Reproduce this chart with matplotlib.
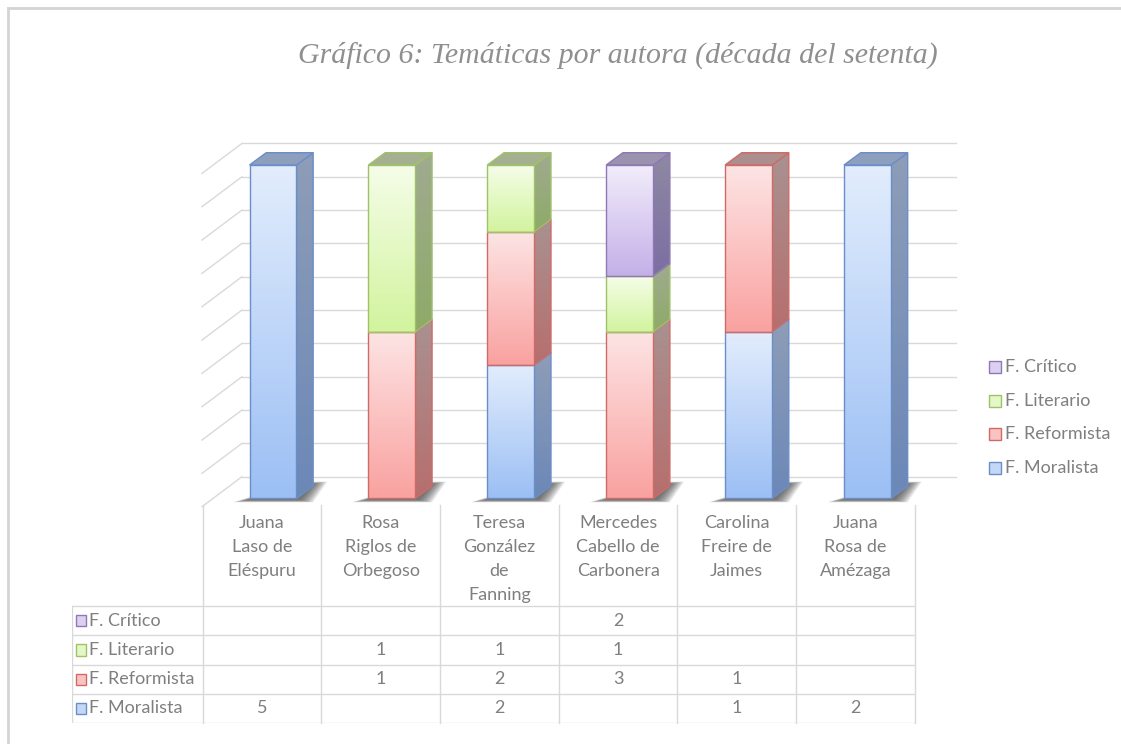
import numpy as np
import matplotlib
matplotlib.use('Agg')
import matplotlib.pyplot as plt
from matplotlib.patches import Polygon, Rectangle
from matplotlib.colors import to_rgb
from matplotlib.lines import Line2D

# data
autoras = ['Juana Laso de Eléspuru', 'Rosa Riglos de Orbegoso',
           'Teresa González de Fanning', 'Mercedes Cabello de Carbonera',
           'Carolina Freire de Jaimes', 'Juana Rosa de Amézaga']
etiquetas = ['Juana\nLaso de\nEléspuru', 'Rosa\nRiglos de\nOrbegoso',
             'Teresa\nGonzález\nde\nFanning', 'Mercedes\nCabello de\nCarbonera',
             'Carolina\nFreire de\nJaimes', 'Juana\nRosa de\nAmézaga']
series = ['F. Moralista', 'F. Reformista', 'F. Literario', 'F. Crítico']
moralista = [5, 0, 2, 0, 1, 2]
reformista = [0, 1, 2, 3, 1, 0]
literario = [0, 1, 1, 1, 0, 0]
critico = [0, 0, 0, 2, 0, 0]
valores = [moralista, reformista, literario, critico]

# styles: front top, front bottom, edge, side top, side bottom, top face, legend fill
estilos = [
    ('#e2edfd', '#9cbff4', '#6a8ec7', '#8e9db8', '#6c88b7', '#8e9fbe', '#c3d8f7'),
    ('#fde4e4', '#f9a2a0', '#d06a67', '#a99191', '#b66f6d', '#ab8e8d', '#f9c3c2'),
    ('#f5fde8', '#d2f49e', '#9fc269', '#a0ab90', '#8eaa68', '#a4b08f', '#e3f8c6'),
    ('#f2edfb', '#c4b0e8', '#8f78b5', '#8e89a2', '#7c6ea3', '#9b92ae', '#dbd0f1'),
]
gris = '#7f7f7f'
rejilla = '#d9d9d9'
fuente = 'Lato'
fs = 13

W, H = 1121, 744
fig = plt.figure(figsize=(W / 100, H / 100), dpi=100)

# main axes: x in category units, y in percent of the front plane
PX_CAT = 118.9
PX_PCT = 3.333
ax = fig.add_axes([0, 0, 1, 1])
ax.axis('off')

bw = 0.395                      # bar width
bd = (16.7 / PX_CAT, 12.3 / PX_PCT)   # bar depth vector
back = (0.2422, 6.48)           # back wall offset from bar front plane
full = (40 / PX_CAT, 30 / PX_PCT)     # floor depth vector
wall_x0, wall_x1 = -0.261, 5.744


def grad_poly(verts, ctop, cbot, edge, z):
    poly = Polygon(verts, closed=True, facecolor='none', edgecolor=edge,
                   lw=1.0, zorder=z + 0.1, joinstyle='round')
    ax.add_patch(poly)
    xs = [v[0] for v in verts]
    ys = [v[1] for v in verts]
    t = np.linspace(0, 1, 64)[:, None]
    img = (1 - t)[..., None] * np.array(to_rgb(cbot)) + t[..., None] * np.array(to_rgb(ctop))
    im = ax.imshow(img, extent=(min(xs), max(xs), min(ys), max(ys)),
                   origin='lower', aspect='auto', zorder=z, interpolation='bilinear')
    im.set_clip_path(poly)


# walls and gridlines
for p in range(0, 101, 10):
    yb = p + back[1]
    ax.plot([wall_x0, wall_x1], [yb, yb], color=rejilla, lw=1.0, zorder=1)
    ax.plot([wall_x0, wall_x0 - full[0]], [yb, yb - full[1]], color=rejilla, lw=1.0, zorder=1)

totales = np.sum(valores, axis=0)
for i in range(len(autoras)):
    xl, xr = i - bw / 2, i + bw / 2
    # soft shadow on the floor
    n = 10
    for k in range(n):
        s = 0.012 * (n - 1 - k)
        sh = Polygon([(xl - 0.14 + s, -1.2 + s * 6), (xr + 0.14 - s, -1.2 + s * 6),
                      (xr + 0.26 - s, 5.0 - s * 6), (xr + 0.02 + s, 5.0 - s * 6)],
                     closed=True, facecolor='#333333', edgecolor='none', alpha=0.1,
                     zorder=2)
        ax.add_patch(sh)
    base = 0.0
    top_st = None
    for j, serie in enumerate(valores):
        v = serie[i]
        if v == 0:
            continue
        h = v / totales[i] * 100
        ft, fb, ed, st, sb, tp, lg = estilos[j]
        y0, y1 = base, base + h
        # side face
        grad_poly([(xr, y0), (xr + bd[0], y0 + bd[1]), (xr + bd[0], y1 + bd[1]), (xr, y1)],
                  st, sb, ed, 3)
        # front face
        grad_poly([(xl, y0), (xr, y0), (xr, y1), (xl, y1)], ft, fb, ed, 4)
        base = y1
        top_st = estilos[j]
    # top face
    ft, fb, ed, st, sb, tp, lg = top_st
    ax.add_patch(Polygon([(xl, base), (xr, base), (xr + bd[0], base + bd[1]),
                          (xl + bd[0], base + bd[1])], closed=True,
                         facecolor=tp, edgecolor=ed, lw=1.0, zorder=5))

ax.set_xlim(-273 / PX_CAT, (W - 273) / PX_CAT)
ax.set_ylim(-(H - 498.3) / PX_PCT, 498.3 / PX_PCT)

# data table
ROW = 29.2
tab = fig.add_axes([72 / W, (H - 723) / H, 843 / W, 216.3 / H])
tab.axis('off')
c0 = 262
tab.set_xlim((72 - c0) / 118.7, (915 - c0) / 118.7)
hdr_top = 216.3 / ROW
tab.set_ylim(0, hdr_top)
x_left = (72 - c0) / 118.7
for k in range(len(autoras) + 1):
    tab.plot([k - 0.5, k - 0.5], [0, hdr_top + 0.05], color=rejilla, lw=1.0, clip_on=False)
for r in range(len(series) + 1):
    tab.plot([x_left, len(autoras) - 0.5], [r, r], color=rejilla, lw=1.0)
tab.plot([x_left, x_left], [0, len(series)], color=rejilla, lw=1.0)

for i, lab in enumerate(etiquetas):
    tab.text(i, hdr_top - 0.3, lab, ha='center', va='top', color=gris,
             fontsize=fs, family=fuente, linespacing=1.6)

for j, (nombre, serie) in enumerate(zip(series, valores)):
    yc = j + 0.5
    lg, ed = estilos[j][6], estilos[j][2]
    tab.add_patch(Rectangle((x_left + 0.03, yc - 0.19), 0.088, 0.38,
                            facecolor=lg, edgecolor=ed, lw=1.0))
    tab.text(x_left + 0.14, yc, nombre, ha='left', va='center', color=gris,
             fontsize=fs, family=fuente)
    for i, v in enumerate(serie):
        if v:
            tab.text(i, yc, str(v), ha='center', va='center', color=gris,
                     fontsize=fs, family=fuente)

# legend
for j in range(len(series) - 1, -1, -1):
    py = 468 - 33.7 * j
    lg, ed = estilos[j][6], estilos[j][2]
    fig.patches.append(Rectangle((989 / W, 1 - (py + 6) / H), 12 / W, 12 / H,
                                 facecolor=lg, edgecolor=ed, lw=1.0,
                                 transform=fig.transFigure, figure=fig))
    fig.text(1005 / W, 1 - py / H, series[j], ha='left', va='center', color=gris,
             fontsize=fs, family=fuente)

# title
fig.text(618 / W, 1 - 55 / H, 'Gráfico 6: Temáticas por autora (década del setenta)',
         ha='center', va='center', color='#8f8f8f', fontsize=21.5,
         family='Liberation Serif', style='italic')

# chart area border (top and left)
fig.add_artist(Line2D([8 / W, 1], [1 - 8 / H, 1 - 8 / H], color='#d4d4d4', lw=2,
                      transform=fig.transFigure))
fig.add_artist(Line2D([8 / W, 8 / W], [0, 1 - 8 / H], color='#d4d4d4', lw=2,
                      transform=fig.transFigure))

fig.savefig('out.png', dpi=100, facecolor='white')
